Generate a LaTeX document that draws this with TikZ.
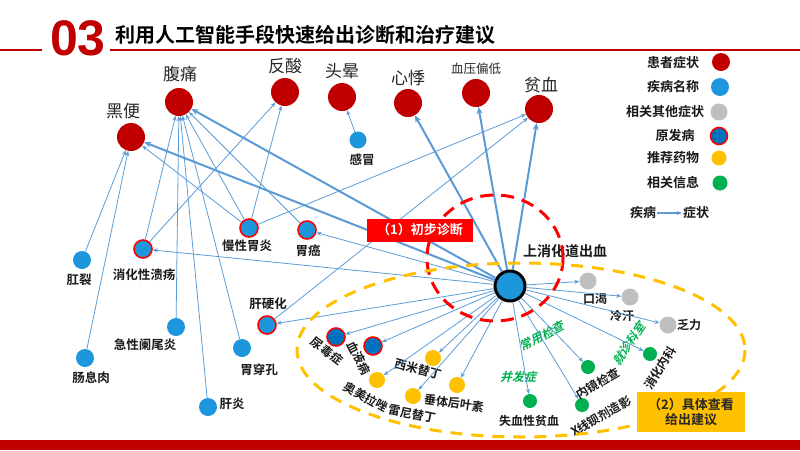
\documentclass[tikz,border=0pt]{standalone}
\usepackage{fontspec}
\setmainfont{Noto Sans CJK SC}[BoldFont={Noto Sans CJK SC Bold}]
\newfontfamily\digitfont{Liberation Sans}[BoldFont={Liberation Sans Bold}]
\newfontfamily\slantfont{Noto Sans CJK SC Bold}[FakeSlant=0.25]
\usepackage{tikz}
\usetikzlibrary{arrows.meta, positioning, calc}
\definecolor{symred}{RGB}{192,0,0}
\definecolor{disblue}{RGB}{30,150,220}
\definecolor{primblue}{RGB}{0,112,192}
\definecolor{othgray}{RGB}{191,191,191}
\definecolor{drugyellow}{RGB}{255,192,0}
\definecolor{infogreen}{RGB}{0,176,80}
\definecolor{edgeblue}{RGB}{91,155,213}
\definecolor{boxred}{RGB}{255,0,0}
\def \UGIB {上消化道出血}

\begin{document}
\begin{tikzpicture}[
	  x=1pt, y=-1pt,
	  symptom_style/.style={
	  	circle,
	  	fill=symred,
	  	minimum size=28pt,
	  	inner sep=0pt
	  },
	  disease_style/.style={
	  	circle,
	  	fill=disblue,
	  	minimum size=18pt,
	  	inner sep=0pt
	  },
	  primary_style/.style={
	  	circle,
	  	fill=disblue,
	  	draw=boxred,
	  	line width=1.6pt,
	  	minimum size=18pt,
	  	inner sep=0pt
	  },
	  other_style/.style={circle, fill=othgray, minimum size=17pt, inner sep=0pt},
	  drug_style/.style={circle, fill=drugyellow, minimum size=16pt, inner sep=0pt},
	  info_style/.style={circle, fill=infogreen, minimum size=14pt, inner sep=0pt},
	  sym_label/.style={font=\fontsize{17}{17}\selectfont, text=black!85, inner sep=1pt},
	  dis_label/.style={font=\bfseries\fontsize{12.5}{13}\selectfont, text=black!90, inner sep=1pt},
	  small_label/.style={font=\bfseries\fontsize{12}{12}\selectfont, text=black!90, inner sep=0.5pt},
	  info_label/.style={font=\slantfont\fontsize{12}{12}\selectfont, text=infogreen, inner sep=0.5pt},
	  leg_label/.style={font=\bfseries\fontsize{13}{13}\selectfont, text=black!90, inner sep=1pt},
	  thin_edge/.style={-{Stealth[length=5pt,width=4pt]}, edgeblue, line width=0.8pt},
	  thick_edge/.style={-{Stealth[length=7pt,width=6pt]}, edgeblue, line width=2pt}]
	\useasboundingbox (0,0) rectangle (800,450);
	% Header
	\node[font=\digitfont\bfseries\fontsize{50}{50}\selectfont, text=symred, inner sep=0pt] (num) at (78,38) {03};
	\node[font=\bfseries\fontsize{20}{20}\selectfont, anchor=west, inner sep=0pt] (title) at (115,35) {利用人工智能手段快速给出诊断和治疗建议};
	\draw[symred, line width=2pt] (0,50) -- (42,50);
	\draw[symred, line width=2pt] (110,50) -- (800,50);
	\fill[symred] (0,440) rectangle (800,450);

	% Symptoms
	\node[symptom_style] (heibian) at (131,137) {};
	\node[symptom_style] (futong) at (179,102) {};
	\node[symptom_style] (fansuan) at (285,92) {};
	\node[symptom_style] (touyun) at (342,97) {};
	\node[symptom_style] (xinji) at (408,103) {};
	\node[symptom_style] (xueya) at (476,93) {};
	\node[symptom_style] (pinxue) at (539,109) {};
	\node[sym_label] (heibian_t) at (123,111) {黑便};
	\node[sym_label] (futong_t) at (180,74) {腹痛};
	\node[sym_label] (fansuan_t) at (285,66) {反酸};
	\node[sym_label] (touyun_t) at (342,71) {头晕};
	\node[sym_label] (xinji_t) at (408,78) {心悸};
	\node[sym_label, font=\fontsize{12.5}{13}\selectfont] (xueya_t) at (476,69) {血压偏低};
	\node[sym_label] (pinxue_t) at (541,85) {贫血};

	% Diseases
	\node[disease_style, minimum size=17pt] (ganmao) at (358,140) {};
	\node[disease_style] (gangl) at (82,260) {};
	\node[primary_style] (kuiyang) at (143,249) {};
	\node[primary_style] (manxing) at (249,228) {};
	\node[primary_style] (weiai) at (307,230) {};
	\node[primary_style] (ganyh) at (267,325) {};
	\node[disease_style] (lanwei) at (176,327) {};
	\node[disease_style] (xirou) at (85,358) {};
	\node[disease_style] (chuankong) at (242,348) {};
	\node[disease_style] (ganyan) at (208,407) {};
	\node[dis_label] (ganmao_t) at (362,160) {感冒};
	\node[dis_label] (gangl_t) at (79,280) {肛裂};
	\node[dis_label] (kuiyang_t) at (144,275) {消化性溃疡};
	\node[dis_label] (manxing_t) at (247,246) {慢性胃炎};
	\node[dis_label] (weiai_t) at (308,251) {胃癌};
	\node[dis_label] (ganyh_t) at (268,304) {肝硬化};
	\node[dis_label] (lanwei_t) at (145,345) {急性阑尾炎};
	\node[dis_label] (xirou_t) at (91,378) {肠息肉};
	\node[dis_label] (chuankong_t) at (259,370) {胃穿孔};
	\node[dis_label] (ganyan_t) at (232,404) {肝炎};

	% Root
	\node[disease_style, draw=black, line width=3pt, minimum size=30pt] (ugib) at (510,286) {};
	\node[dis_label, font=\bfseries\fontsize{14}{14}\selectfont] (ugib_t) at (565,251) {\UGIB};

	% Children
	\node[other_style] (kouke) at (588,281) {};
	\node[other_style] (lenghan) at (630,297) {};
	\node[other_style] (fali) at (668,325) {};
	\node[small_label] (kouke_t) at (595,299) {口渴};
	\node[small_label] (lenghan_t) at (622,316) {冷汗};
	\node[small_label] (fali_t) at (689,325) {乏力};
	\node[info_style] (xiaohuank) at (650,354) {};
	\node[info_style] (neijing) at (588,367) {};
	\node[info_style] (xray) at (582,405) {};
	\node[info_style] (shixue) at (530,401) {};
	\node[small_label, rotate=58] (xiaohuank_t) at (660,368) {消化内科};
	\node[small_label, rotate=30] (neijing_t) at (598,383) {内镜检查};
	\node[small_label, rotate=30] (xray_t) at (601,416) {X线钡剂造影};
	\node[small_label] (shixue_t) at (529,421) {失血性贫血};
	\node[info_label, rotate=28] (changyong) at (542,336) {常用检查};
	\node[info_label] (bingfa) at (518,377) {并发症};
	\node[info_label, rotate=55] (jiuzhen) at (629,344) {就诊科室};
	\node[drug_style] (ximi) at (433,358) {};
	\node[drug_style] (aomei) at (377,380) {};
	\node[drug_style] (leini) at (413,396) {};
	\node[drug_style] (chuiti) at (457,385) {};
	\node[small_label, rotate=-15] (ximi_t) at (418,369) {西米替丁};
	\node[small_label, rotate=-29] (aomei_t) at (366,397) {奥美拉唑};
	\node[small_label, rotate=-11] (leini_t) at (412,414) {雷尼替丁};
	\node[small_label, rotate=-8] (chuiti_t) at (454,403) {垂体后叶素};
	\node[primary_style, fill=primblue] (niaodu) at (336,337) {};
	\node[primary_style, fill=primblue] (xueye) at (373,346) {};
	\node[small_label, rotate=-37] (niaodu_t) at (327,351) {尿毒症};
	\node[small_label, rotate=-63] (xueye_t) at (359,358) {血液病};

	% Disease -> symptom
	\draw[thin_edge] (gangl) -- (heibian);
	\draw[thin_edge] (xirou) -- (heibian);
	\draw[thin_edge] (manxing) -- (heibian);
	\draw[thin_edge] (kuiyang) -- (futong);
	\draw[thin_edge] (kuiyang) -- (fansuan);
	\draw[thin_edge] (lanwei) -- (futong);
	\draw[thin_edge] (ganyan) -- (futong);
	\draw[thin_edge] (chuankong) -- (futong);
	\draw[thin_edge] (manxing) -- (futong);
	\draw[thin_edge] (weiai) -- (futong);
	\draw[thin_edge] (manxing) -- (fansuan);
	\draw[thin_edge] (manxing) -- (pinxue);
	\draw[thin_edge] (ganyh) -- (pinxue);
	\draw[thin_edge] (ganmao) -- (touyun);
	\foreach \s in {heibian, futong, xinji, xueya, pinxue}
		\draw[thick_edge] (ugib) -- (\s);
	\foreach \c in {kuiyang, weiai, ganyh, niaodu, xueye, ximi, aomei, leini, chuiti,
	                shixue, xray, neijing, xiaohuank, kouke, lenghan, fali}
		\draw[thin_edge] (ugib) -- (\c);

	% Groups
	\draw[boxred, line width=3pt, dash pattern=on 13pt off 8pt] (495,258) ellipse [x radius=68, y radius=63];
	\draw[drugyellow, line width=3pt, dash pattern=on 12pt off 9pt] (521,350) ellipse [x radius=224, y radius=87];
	\node[fill=boxred, text=white, font=\bfseries\fontsize{13}{13}\selectfont, minimum width=106pt, minimum height=23pt, inner sep=0pt] (step1) at (420,230) {（1）初步诊断};
	\node[fill=drugyellow, text=black!85, font=\bfseries\fontsize{13}{15}\selectfont, align=center, minimum width=108pt, minimum height=40pt, inner sep=0pt] (step2) at (691,412) {（2）具体查看\\给出建议};

	% Legend
	\node[leg_label] (leg1_t) at (673,63) {患者症状};
	\node[leg_label] (leg2_t) at (673,87) {疾病名称};
	\node[leg_label] (leg3_t) at (665,112) {相关其他症状};
	\node[leg_label] (leg4_t) at (675,136) {原发病};
	\node[leg_label] (leg5_t) at (673,158) {推荐药物};
	\node[leg_label] (leg6_t) at (673,183) {相关信息};
	\node[symptom_style, minimum size=18pt] (leg1) at (721,62) {};
	\node[disease_style] (leg2) at (720,87) {};
	\node[other_style] (leg3) at (719,112) {};
	\node[primary_style, fill=primblue, minimum size=17pt] (leg4) at (719,136) {};
	\node[drug_style, minimum size=15pt] (leg5) at (719,158) {};
	\node[info_style, minimum size=15pt] (leg6) at (720,183) {};
	\node[leg_label] (leg_dis) at (643,213) {疾病};
	\node[leg_label] (leg_sym) at (696,213) {症状};
	\draw[thin_edge, line width=1.2pt] (leg_dis) -- (leg_sym);
\end{tikzpicture}
\end{document}
